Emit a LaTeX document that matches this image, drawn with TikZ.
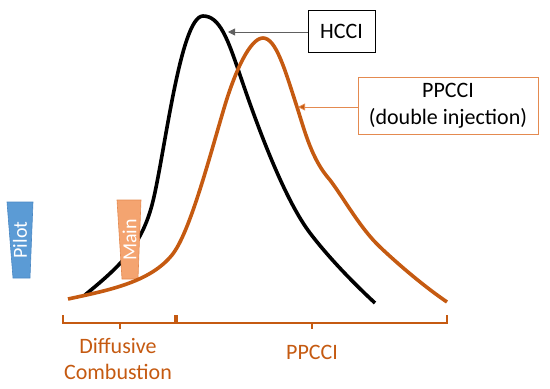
\documentclass[tikz,border=0pt]{standalone}
\usepackage{fontspec}
\setmainfont{Carlito}
\usetikzlibrary{arrows.meta}
\definecolor{orng}{HTML}{C55A11}
\definecolor{orngl}{HTML}{F4A470}
\definecolor{orngb}{HTML}{E48A50}
\definecolor{blu}{HTML}{5B9BD5}
\definecolor{blub}{HTML}{4A88C4}
\tikzset{
  curve/.style={line width=3.6pt, line join=round},
  lbl/.style={font=\fontsize{22}{26}\selectfont, inner sep=0pt},
  inj/.style={font=\fontsize{20}{24}\selectfont, inner sep=0pt, white, rotate=90},
  boxlbl/.style={draw, line width=0.9pt, font=\fontsize{22}{27}\selectfont, align=center, inner sep=0pt},
  brace/.style={orng, line width=1.3pt},
  pointer/.style={line width=0.8pt, -{Triangle[length=7pt,width=7pt]}},
}
\begin{document}
\begin{tikzpicture}[x=1pt,y=-1pt]
\useasboundingbox (0,0) rectangle (550,389);
% black HCCI curve
\draw[curve, black] (85,295) .. controls (115,270) and (140,250) .. (152,205)
  .. controls (164,160) and (180,16) .. (203,16)
  .. controls (220,16) and (228,40) .. (240,75)
  .. controls (259,131) and (285,200) .. (310,233)
  .. controls (325,253) and (350,280) .. (375,303);
% injection blocks
\draw[fill=blu, draw=blub, line width=0.6pt] (7,202) -- (33,202) -- (30,278) -- (13,278) -- cycle;
\node[inj] (pilot) at (20,240) {Pilot};
\draw[fill=orngl, draw=orngb, line width=0.6pt] (117,200) -- (141,200) -- (138,279) -- (122,279) -- cycle;
\node[inj] (main) at (129.5,240) {Main};
% orange PPCCI curve
\draw[curve, orng] (68,299) .. controls (110,290) and (150,282) .. (172,255)
  .. controls (190,233) and (210,155) .. (225,105)
  .. controls (235,72) and (250,38) .. (263,38)
  .. controls (276,38) and (285,70) .. (297,107)
  .. controls (305,132) and (312,160) .. (330,180)
  .. controls (345,200) and (360,228) .. (380,247)
  .. controls (400,266) and (425,287) .. (447,302);
% label boxes
\node[boxlbl, black, minimum width=67pt, minimum height=42pt] (hcci) at (341.5,31) {HCCI};
\node[boxlbl, draw=orngb, text=black, minimum width=180pt, minimum height=57pt] (ppcci) at (448,105.5) {PPCCI\\(double injection)};
\coordinate (hcciTip) at (228,32);
\coordinate (ppcciTip) at (298,107);
\draw[pointer, gray!75!black] (hcci.west |- hcciTip) -- (hcciTip);
\draw[pointer, orngb, -{Triangle[length=7pt,width=7pt,fill=orng]}] (ppcci.west |- ppcciTip) -- (ppcciTip);
% brackets
\draw[brace] (63,315) -- (63,323) -- (175,323) -- (175,315);
\draw[brace] (120,323) -- (120,329);
\draw[brace] (177,315) -- (177,323) -- (447,323) -- (447,315);
\draw[brace] (312,323) -- (312,329);
\node[lbl, orng, align=center, font=\fontsize{22}{26}\selectfont] (diff) at (118,359) {Diffusive\\Combustion};
\node[lbl, orng] (ppl) at (312,352) {PPCCI};
\end{tikzpicture}
\end{document}
